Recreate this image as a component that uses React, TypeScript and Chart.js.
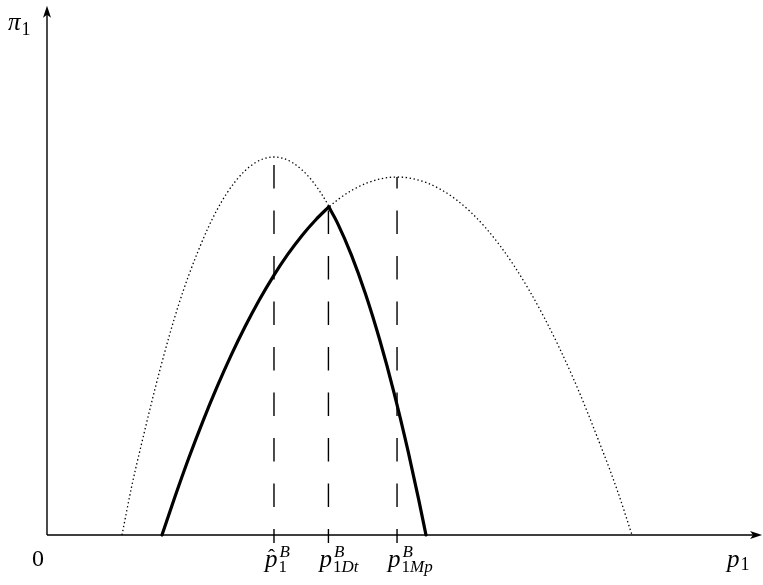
import React, { useEffect, useRef } from "react";
import { Chart, registerables } from "chart.js";

Chart.register(...registerables);

// Left dotted profit curve (peaks at p̂1^B)
const curveAX = [10.59, 12, 13.27, 15.96, 18.6, 21.32, 24, 26.69, 29.4, 32.06, 34.7, 37.43, 40.1, 42.8, 45.5, 48.16, 50.85, 52.2, 53.53];
const curveAY = [0, 9.5, 16.9, 31.5, 43.9, 54.0, 61.9, 67.5, 70.9, 72.0, 70.9, 67.5, 61.9, 54.0, 43.9, 31.5, 16.9, 8.7, 0];

// Right dotted profit curve (peaks at p1Mp^B)
const curveBX = [16.24, 18.3, 20.39, 24.54, 28.7, 32.84, 37, 41.14, 45.3, 49.44, 53.6, 57.74, 61.9, 66.04, 70.2, 74.34, 78.49, 80.6, 82.63];
const curveBY = [0, 8.3, 15.98, 29.83, 41.5, 51.14, 58.6, 63.93, 67.1, 68.19, 67.1, 63.93, 58.6, 51.14, 41.5, 29.83, 15.98, 8.3, 0];

// Bold envelope: rising branch then falling branch
const boldLeftX = [16.24, 18, 20, 22, 24, 26, 28, 30, 32, 34, 36, 38, 39.8];
const boldLeftY = [0, 7.0, 14.57, 21.61, 28.15, 34.2, 39.75, 44.81, 49.37, 53.44, 57.02, 60.1, 62.5];
const boldRightX = [39.8, 41, 43, 45, 47, 49, 51, 52.5, 53.53];
const boldRightY = [62.5, 59.51, 53.31, 45.85, 37.13, 27.18, 15.97, 6.75, 0];

// Dashed reference lines
const markerX = [32.06, 39.75, 49.44];
const markerTop = [72.0, 62.5, 68.19];
const markerBottom = -1.52;

const xAxisEnd = 101;
const yAxisEnd = 100.8;

const toPts = (xs: number[], ys: number[]) => xs.map((x, i) => ({ x, y: ys[i] }));

const SERIF = '"Liberation Serif", "DejaVu Serif", serif';

const axesPlugin = {
  id: "mathAxes",
  afterDatasetsDraw(chart: any) {
    const ctx = chart.ctx;
    const xs = chart.scales.x;
    const ys = chart.scales.y;
    const ox = xs.getPixelForValue(0);
    const oy = ys.getPixelForValue(0);
    const xe = xs.getPixelForValue(xAxisEnd);
    const ye = ys.getPixelForValue(yAxisEnd);
    ctx.save();
    ctx.strokeStyle = "#000";
    ctx.fillStyle = "#000";
    ctx.lineWidth = 1.4;
    ctx.setLineDash([]);
    ctx.beginPath();
    ctx.moveTo(ox, oy);
    ctx.lineTo(xe - 6, oy);
    ctx.moveTo(ox, oy);
    ctx.lineTo(ox, ye + 6);
    ctx.stroke();
    // arrowheads
    ctx.beginPath();
    ctx.moveTo(xe, oy);
    ctx.lineTo(xe - 12, oy - 4);
    ctx.lineTo(xe - 9, oy);
    ctx.lineTo(xe - 12, oy + 4);
    ctx.closePath();
    ctx.fill();
    ctx.beginPath();
    ctx.moveTo(ox, ye);
    ctx.lineTo(ox - 4, ye + 12);
    ctx.lineTo(ox, ye + 9);
    ctx.lineTo(ox + 4, ye + 12);
    ctx.closePath();
    ctx.fill();

    const it = (s: number) => `italic ${s}px ${SERIF}`;
    const up = (s: number) => `${s}px ${SERIF}`;
    ctx.textAlign = "left";
    ctx.textBaseline = "alphabetic";
    const put = (t: string, f: string, x: number, y: number) => {
      ctx.font = f;
      ctx.fillText(t, x, y);
      return ctx.measureText(t).width;
    };

    // y-axis label π1
    const pw = put("π", it(25), ox - 39, ye + 24);
    put("1", up(18), ox - 39 + pw + 1, ye + 29);
    // origin
    put("0", up(24), ox - 15, oy + 31);
    // x-axis label p1
    const qw = put("p", it(25), xe - 35, oy + 32);
    put("1", up(18), xe - 35 + qw + 1, oy + 35);

    // tick labels under the dashed lines
    const mainY = oy + 32;
    const supY = oy + 22;
    const subY = oy + 37;
    const labelSubs = ["1", "1Dt", "1Mp"];
    markerX.forEach((v, i) => {
      const px = xs.getPixelForValue(v) - 9;
      const w = put("p", it(25), px, mainY);
      if (i === 0) {
        put("ˆ", up(21), px + 3, oy + 29);
      }
      put("B", it(17), px + w + 2, supY);
      const sub = labelSubs[i];
      let cx = px + w + 1;
      cx += put("1", up(17), cx, subY);
      if (sub.length > 1) put(sub.slice(1), it(17), cx, subY);
    });
    ctx.restore();
  },
};

export default function App() {
  const ref = useRef<HTMLCanvasElement | null>(null);
  useEffect(() => {
    if (!ref.current) return;
    const dotted = {
      borderColor: "#000",
      borderWidth: 1.3,
      borderDash: [1.4, 2.6],
      cubicInterpolationMode: "monotone" as const,
      pointRadius: 0,
      clip: false as any,
    };
    const bold = {
      borderColor: "#000",
      borderWidth: 3.2,
      cubicInterpolationMode: "monotone" as const,
      pointRadius: 0,
      borderCapStyle: "round" as const,
      clip: false as any,
    };
    const markers = markerX.map((x, i) => ({
      data: [
        { x, y: markerBottom },
        { x, y: markerTop[i] },
      ],
      borderColor: "#000",
      borderWidth: 1.4,
      borderDash: [23.5, 22],
      borderDashOffset: 9.5,
      pointRadius: 0,
      clip: false as any,
    }));
    const chart = new Chart(ref.current, {
      type: "line",
      data: {
        datasets: [
          { ...bold, data: toPts(boldLeftX, boldLeftY) },
          { ...bold, data: toPts(boldRightX, boldRightY) },
          { ...dotted, data: toPts(curveAX, curveAY) },
          { ...dotted, data: toPts(curveBX, curveBY) },
          ...markers,
        ] as any,
      },
      options: {
        responsive: false,
        animation: false,
        layout: { padding: { left: 47, right: 8, top: 10, bottom: 50 } },
        plugins: { legend: { display: false }, tooltip: { enabled: false } },
        scales: {
          x: { type: "linear", min: 0, max: 100, display: false },
          y: { type: "linear", min: 0, max: 100, display: false },
        },
        elements: { point: { radius: 0 } },
      },
      plugins: [axesPlugin],
    });
    return () => chart.destroy();
  }, []);
  return (
    <div style={{ position: "absolute", left: 0, top: 0, width: 763, height: 585, background: "#fff" }}>
      <canvas ref={ref} width={763} height={585} style={{ width: 763, height: 585 }} />
    </div>
  );
}
